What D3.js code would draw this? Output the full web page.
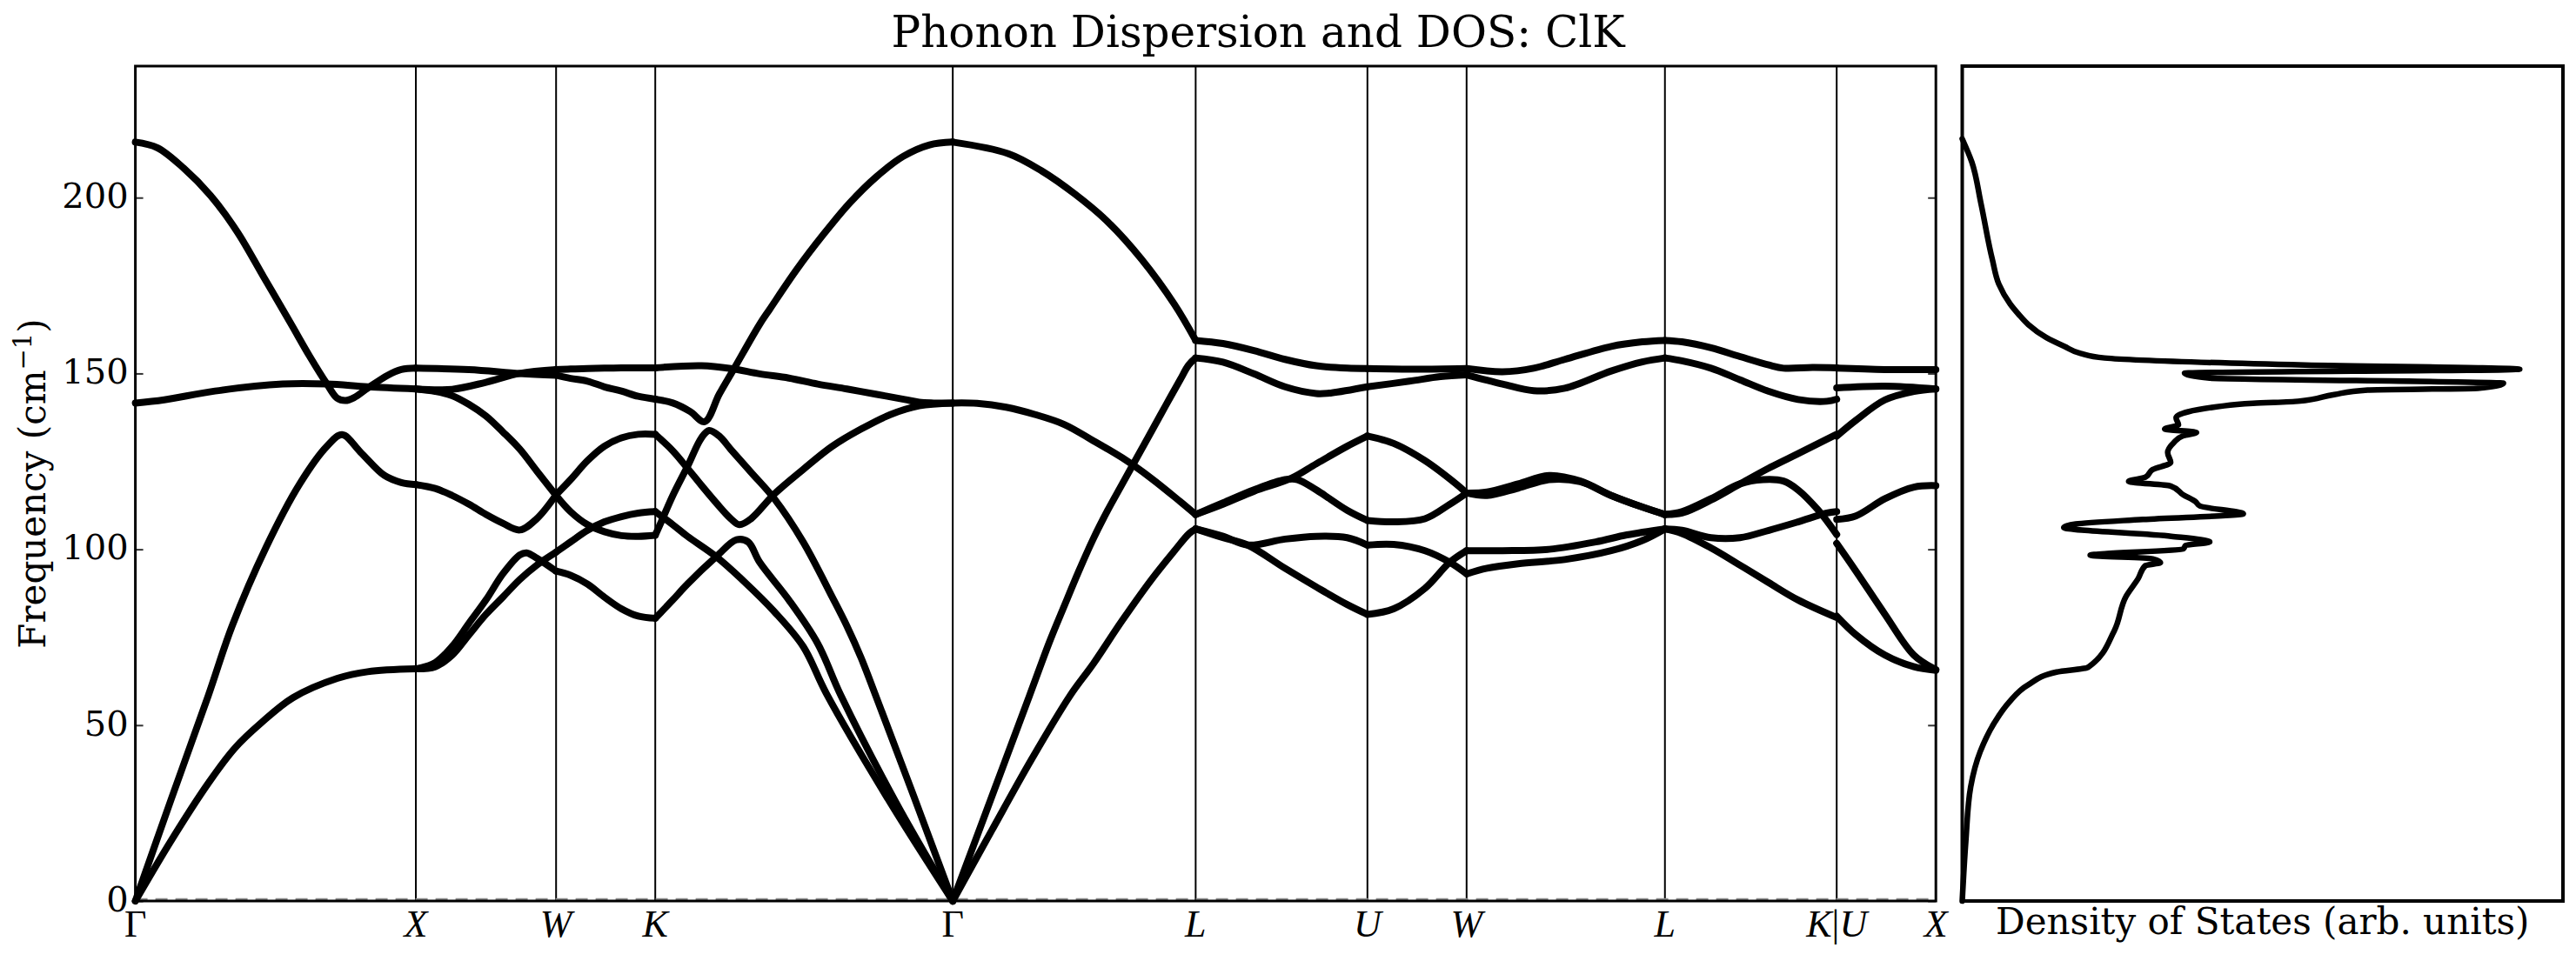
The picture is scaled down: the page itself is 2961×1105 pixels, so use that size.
<!DOCTYPE html>
<html>
<head>
<meta charset="utf-8">
<script src="https://cdn.jsdelivr.net/npm/d3@7"></script>
<style>
  body { margin: 0; background: #fff; }
  svg { display: block; }
</style>
</head>
<body>
<div id="chart"></div>
<script>
// high-symmetry path (fcc), segment lengths in 2pi/a units
const kLabels = ["Γ", "X", "W", "K", "Γ", "L", "U", "W", "L", "K|U", "X"];
const segLengths = [1.0, 0.5, 0.3536, 1.0607, 0.866, 0.6124, 0.3536, 0.7071, 0.6124, 0.3536];
const yTicks = [0, 50, 100, 150, 200];
const freqMax = 237.4;

// bands per segment: each branch is [t along segment (0..1), frequency in cm^-1]
const bandsGX = [
  [[0,215.8],[.078,214.2],[.172,208.4],[.268,200.6],[.363,190.3],[.457,177.5],[.552,164.5],[.622,154.8],[.683,147],[.719,143],[.749,142.3],[.779,143.1],[.828,145.8],[.9,149.5],[.948,151.1],[1,151.5]],
  [[0,141.6],[.103,142.5],[.284,145],[.525,147],[.683,147],[.828,146.2],[1,145.6]],
  [[0,0],[.128,29],[.26,58.4],[.345,78.2],[.465,100.4],[.586,118.6],[.683,129.3],[.737,132.6],[.803,127.6],[.888,121],[.948,119],[1,118.4]],
  [[0,0],[.127,17.1],[.261,33.6],[.355,43.5],[.451,50.8],[.562,57.8],[.72,63.3],[.828,65.2],[1,66]]
];
const bandsXW = [
  [[0,151.5],[.379,151.1],[.741,150],[1,149.5]],
  [[0,145.6],[.259,145.5],[.5,147.5],[.741,150],[1,151.1]],
  [[0,145.6],[.138,144.9],[.259,143.7],[.379,141.2],[.5,137.9],[.62,133.4],[.741,128.5],[.862,122.3],[1,115.3]],
  [[0,118.4],[.138,117.3],[.259,115.3],[.379,112.8],[.5,109.9],[.62,107.4],[.741,105.5],[.862,108.7],[1,115.5]],
  [[0,66],[.138,67.8],[.259,72.4],[.379,79],[.5,85.6],[.62,93],[.741,98.4],[.79,99],[.862,97.5],[1,93.8]],
  [[0,66],[.138,66.6],[.259,69.9],[.379,75.7],[.5,81.5],[.62,86.4],[.741,91.4],[.862,95.5],[1,99.2]]
];
const bandsWK = [
  [[0,149.5],[.146,148.6],[.317,147.8],[.487,146.2],[.658,145],[.828,143.5],[1,142.7]],
  [[0,151.1],[.146,151.3],[.317,151.4],[.487,151.5],[.658,151.6],[.828,151.6],[1,151.6]],
  [[0,115.3],[.146,110.7],[.317,107],[.487,105],[.658,103.9],[.828,103.7],[1,104]],
  [[0,115.5],[.146,119.8],[.317,125.2],[.487,129.3],[.658,131.7],[.828,132.7],[1,132.7]],
  [[0,99.2],[.146,102.1],[.317,105.4],[.487,107.8],[.658,109.3],[.828,110.3],[1,110.7]],
  [[0,93.8],[.146,92.6],[.317,90.1],[.487,86.4],[.658,83.1],[.828,81],[1,80.4]]
];
const bandsKG = [
  [[0,151.6],[.156,152.2],[.254,151.4],[.351,149.9],[.449,148.7],[.546,147],[.644,145.6],[.741,144.1],[.839,142.6],[.887,141.8],[.936,141.6],[1,141.6]],
  [[0,142.7],[.059,141.6],[.117,139.2],[.166,136.3],[.215,144.1],[.263,151.1],[.351,164],[.385,168.3],[.475,179.5],[.564,189.4],[.654,198.5],[.743,205.9],[.833,211.7],[.922,215],[1,215.8]],
  [[0,132.7],[.059,128],[.108,123.1],[.156,118.1],[.205,113.2],[.254,108.7],[.283,107],[.322,108.7],[.4,115.7],[.497,122.7],[.595,129.3],[.692,134.2],[.79,138.3],[.887,140.8],[1,141.6]],
  [[0,110.7],[.059,107],[.108,103.7],[.205,97.9],[.303,90.5],[.4,82.3],[.497,72.4],[.575,59],[.786,28.5],[1,0]],
  [[0,104],[.02,107.8],[.059,115.3],[.108,123.5],[.156,131.8],[.181,133.8],[.215,132.2],[.254,128.4],[.322,121.9],[.4,114.4],[.497,102.1],[.595,86.4],[.644,78.2],[.692,69.1],[.741,58.4],[.868,30],[1,0]],
  [[0,80.4],[.059,85.6],[.108,90.1],[.205,97.9],[.273,102.7],[.312,102.1],[.351,96.3],[.449,85.6],[.546,73.2],[.624,58.4],[.809,28],[1,0]]
];
const bandsGL = [
  [[0,215.8],[.229,212.5],[.366,207.6],[.503,201],[.64,193],[.777,182.5],[.913,169.6],[1,159.4]],
  [[0,141.6],[.1,141.5],[.22,140.4],[.34,138.3],[.459,135.5],[.578,130.9],[.698,126],[.817,120.2],[.936,113.6],[1,109.9]],
  [[0,0],[.157,29],[.316,58.4],[.4,74],[.459,83.9],[.519,93.8],[.578,102.9],[.638,111.1],[.698,118.6],[.817,133.4],[.876,140.8],[.936,148.2],[.971,152.4],[1,154.4]],
  [[0,0],[.16,20],[.322,40],[.483,58.4],[.578,67.4],[.698,79.8],[.817,91.3],[.913,99.6],[.973,104.5],[1,105.8]]
];
const bandsLU = [
  [[0,159.4],[.159,158.5],[.339,156.5],[.52,154],[.702,152.2],[.882,151.5],[1,151.4]],
  [[0,154.4],[.159,153.2],[.339,149.9],[.52,146.2],[.702,144.3],[.792,144.5],[1,146.2]],
  [[0,109.9],[.159,112.8],[.339,116.5],[.557,120.2],[.702,124.3],[.882,129.3],[1,132.2]],
  [[0,109.9],[.159,113.2],[.339,116.9],[.52,119.8],[.593,119.8],[.702,116.9],[.882,111.1],[1,108.2]],
  [[0,105.8],[.159,103.7],[.303,101.2],[.52,102.9],[.702,103.7],[.882,103.3],[1,101.2]],
  [[0,105.8],[.159,103.3],[.303,101.2],[.52,94.6],[.702,89.3],[.882,84.3],[1,81.5]]
];
const bandsUW = [
  [[0,151.4],[.5,151.2],[1,151.4]],
  [[0,146.2],[.423,147.8],[.736,149.1],[1,149.6]],
  [[0,132.2],[.265,130.1],[.58,125.2],[.893,118.6],[1,116]],
  [[0,108.2],[.265,107.8],[.58,108.7],[.83,112.8],[1,116]],
  [[0,101.2],[.265,101.4],[.58,99.6],[.83,96.3],[1,93]],
  [[0,81.5],[.265,83.1],[.58,88.9],[.83,96.3],[1,99.6]]
];
const bandsWL = [
  [[0,151.4],[.181,150.5],[.338,151.5],[.495,154],[.729,157.7],[.886,159],[1,159.4]],
  [[0,149.6],[.181,147],[.338,145.1],[.495,145.8],[.729,150.7],[.886,153.3],[1,154.4]],
  [[0,116],[.103,116.3],[.26,118.6],[.416,121],[.573,119.4],[.729,115.3],[.886,112],[1,109.9]],
  [[0,116],[.103,115.3],[.26,117.4],[.416,119.8],[.573,119.2],[.729,115.3],[.886,112],[1,109.9]],
  [[0,99.6],[.181,99.6],[.416,100],[.651,102.1],[.808,104.1],[1,105.8]],
  [[0,93],[.103,94.6],[.26,95.9],[.495,97.1],[.729,99.6],[.886,102.5],[1,105.8]]
];
const bandsLK = [
  [[0,159.4],[.099,159],[.268,157.3],[.437,154.8],[.605,152.4],[.69,151.5],[.859,151.7],[1,151.6]],
  [[0,154.4],[.099,153.6],[.268,151.5],[.437,148.2],[.605,144.9],[.775,142.6],[.943,142.1],[1,142.7]],
  [[0,109.9],[.099,110.3],[.268,114],[.437,118.6],[.605,123.1],[.775,127.2],[1,132.7]],
  [[0,109.9],[.099,110.7],[.268,114.4],[.437,118.6],[.572,119.8],[.69,119.4],[.775,116.9],[.893,111.1],[1,104.2]],
  [[0,105.8],[.099,105.4],[.268,103.3],[.437,103.3],[.605,105.4],[.775,107.8],[.943,110.3],[1,110.7]],
  [[0,105.8],[.099,104.5],[.268,100.4],[.437,95.5],[.605,90.5],[.775,85.6],[1,80.6]]
];
const bandsUX = [
  [[0,151.5],[.487,151.1],[1,151.1]],
  [[0,145.9],[.487,146.4],[1,145.6]],
  [[0,132.2],[.194,136.7],[.487,142.5],[.779,144.9],[1,145.6]],
  [[0,108.5],[.194,109.5],[.487,114.4],[.779,117.7],[1,118.1]],
  [[0,101.7],[.194,93.8],[.487,81.5],[.779,69.9],[1,65.8]],
  [[0,81],[.194,75.7],[.487,69.9],[.779,66.6],[1,65.6]]
];
const segBands = [bandsGX, bandsXW, bandsWK, bandsKG, bandsGL, bandsLU, bandsUW, bandsWL, bandsLK, bandsUX];

// density of states: frequency (cm^-1) and DOS (arb. units)
const dosFreq = [0, 17.1, 32.4, 42.5, 50.8, 56.5, 61.5, 65.1, 66.4, 76.8, 86.7, 91.7, 95.4, 96.2, 97.3, 98.3,
  100.1, 101.1, 102.1, 103.7, 106.2, 107.2, 108.5, 110.1, 112.3, 113.6, 115.5, 118.0, 119.3, 120.5, 122.7,
  124.7, 127.5, 130.3, 132.3, 133.2, 134.2, 135.4, 137.4, 140.8, 141.5, 142.1, 144.0, 145.3, 145.8, 147.2,
  148.7, 150.1, 151.2, 152.4, 154.4, 155.7, 157.7, 160.2, 163.9, 166.8, 169.7, 175.4, 182.5, 198.5, 210.1, 216.7];
const dosValue = [0, 0.006, 0.014, 0.030, 0.054, 0.078, 0.110, 0.157, 0.209, 0.253, 0.273, 0.293, 0.305, 0.330, 0.317, 0.213,
  0.368, 0.372, 0.412, 0.348, 0.169, 0.189, 0.301, 0.468, 0.396, 0.388, 0.368, 0.347, 0.277, 0.305, 0.317,
  0.347, 0.342, 0.352, 0.368, 0.390, 0.337, 0.360, 0.356, 0.436, 0.484, 0.559, 0.619, 0.675, 0.858, 0.901,
  0.412, 0.370, 0.928, 0.571, 0.237, 0.197, 0.170, 0.140, 0.110, 0.094, 0.080, 0.061, 0.050, 0.031, 0.016, 0];

(function () {
    const width = 2961, height = 1105;
    const top = 76, bottom = 1036;
    const bandLeft = 155.6, bandRight = 2225.2;
    const dosLeft = 2255.5, dosRight = 2946;
    const serif = "'DejaVu Serif', serif";
    const mathFont = "'Liberation Serif', 'DejaVu Serif', serif";

    const svg = d3.select("#chart").append("svg")
        .attr("width", width)
        .attr("height", height)
        .style("background", "#fff");

    // cumulative k position of each high-symmetry point
    const kPos = [0];
    segLengths.forEach((l, i) => kPos.push(kPos[i] + l));

    const x = d3.scaleLinear().domain([0, kPos[kPos.length - 1]]).range([bandLeft, bandRight]);
    const y = d3.scaleLinear().domain([0, freqMax]).range([bottom, top]);
    const xd = d3.scaleLinear().domain([0, 1]).range([dosLeft, dosRight]);

    // title
    svg.append("text")
        .attr("x", 1446).attr("y", 54)
        .attr("text-anchor", "middle")
        .style("font-family", serif)
        .style("font-size", "50px")
        .text("Phonon Dispersion and DOS: ClK");

    const band = svg.append("g");

    // vertical lines at the high-symmetry points
    band.append("g")
        .selectAll("line")
        .data(kPos.slice(1, -1))
        .join("line")
        .attr("x1", d => x(d)).attr("x2", d => x(d))
        .attr("y1", top).attr("y2", bottom)
        .attr("stroke", "#000")
        .attr("stroke-width", 2);

    // zero line (dashed)
    band.append("line")
        .attr("x1", x(0)).attr("x2", x(kPos[kPos.length - 1]))
        .attr("y1", y(0) - 2).attr("y2", y(0) - 2)
        .attr("stroke", "#8c8c8c")
        .attr("stroke-width", 2.5)
        .attr("stroke-dasharray", "14,9");

    // bands, segment by segment
    segBands.forEach((branches, s) => {
        const line = d3.line()
            .x(d => x(kPos[s] + d[0] * segLengths[s]))
            .y(d => y(d[1]))
            .curve(d3.curveCatmullRom.alpha(0.5));
        band.append("g")
            .selectAll("path")
            .data(branches)
            .join("path")
            .attr("d", line)
            .attr("fill", "none")
            .attr("stroke", "#000")
            .attr("stroke-width", 8)
            .attr("stroke-linecap", "round")
            .attr("stroke-linejoin", "round");
    });

    // y axis, ticks pointing inward
    const yAxis = band.append("g")
        .attr("transform", `translate(${bandLeft},0)`)
        .call(d3.axisLeft(y).tickValues(yTicks).tickSizeInner(-9).tickSizeOuter(0).tickPadding(8));
    yAxis.select(".domain").remove();
    yAxis.selectAll(".tick line").attr("stroke", "#333").attr("stroke-width", 2);
    yAxis.selectAll(".tick text")
        .attr("dy", "0.28em")
        .style("font-family", serif)
        .style("font-size", "40px")
        .attr("fill", "#000");

    const yAxisR = band.append("g")
        .attr("transform", `translate(${bandRight},0)`)
        .call(d3.axisRight(y).tickValues(yTicks).tickSizeInner(-9).tickSizeOuter(0).tickFormat(""));
    yAxisR.select(".domain").remove();
    yAxisR.selectAll(".tick line").attr("stroke", "#333").attr("stroke-width", 2);

    // frame of the band plot
    band.append("rect")
        .attr("x", bandLeft).attr("y", top)
        .attr("width", bandRight - bandLeft).attr("height", bottom - top)
        .attr("fill", "none")
        .attr("stroke", "#000")
        .attr("stroke-width", 3);

    // k-point labels
    const kText = band.append("g")
        .selectAll("text")
        .data(kLabels)
        .join("text")
        .attr("x", (d, i) => x(kPos[i]))
        .attr("y", 1077)
        .attr("text-anchor", "middle")
        .style("font-family", mathFont)
        .style("font-size", "44px");
    kText.each(function (d) {
        const t = d3.select(this);
        d.split(/(\|)/).forEach(part => {
            if (!part) return;
            t.append("tspan")
                .style("font-style", (part === "Γ" || part === "|") ? "normal" : "italic")
                .text(part);
        });
    });

    // y label
    const yl = svg.append("text")
        .attr("transform", "translate(52,556) rotate(-90)")
        .attr("text-anchor", "middle")
        .style("font-family", serif)
        .style("font-size", "42px");
    yl.append("tspan").text("Frequency (cm");
    yl.append("tspan").attr("dy", -16).style("font-size", "29px").text("−1");
    yl.append("tspan").attr("dy", 16).text(")");

    // DOS panel
    const dos = svg.append("g");
    const dosLine = d3.line()
        .x((d, i) => xd(dosValue[i]))
        .y(d => y(d))
        .curve(d3.curveMonotoneY);
    dos.append("path")
        .attr("d", dosLine(dosFreq))
        .attr("fill", "none")
        .attr("stroke", "#000")
        .attr("stroke-width", 6.5)
        .attr("stroke-linejoin", "round")
        .attr("stroke-linecap", "round");

    dos.append("rect")
        .attr("x", dosLeft).attr("y", top)
        .attr("width", dosRight - dosLeft).attr("height", bottom - top)
        .attr("fill", "none")
        .attr("stroke", "#000")
        .attr("stroke-width", 4);

    dos.append("text")
        .attr("x", (dosLeft + dosRight) / 2).attr("y", 1074)
        .attr("text-anchor", "middle")
        .style("font-family", serif)
        .style("font-size", "42px")
        .text("Density of States (arb. units)");
})();
</script>
</body>
</html>
